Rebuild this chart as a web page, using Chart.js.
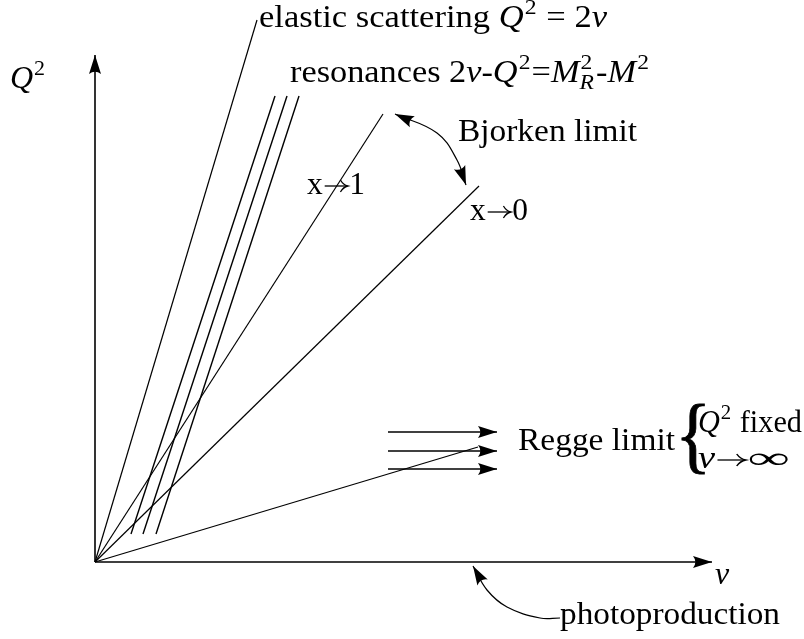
<!DOCTYPE html>
<html>
<head>
<meta charset="utf-8">
<script src="https://cdn.jsdelivr.net/npm/chart.js@4.4.1/dist/chart.umd.min.js"></script>
<style>
  html, body { margin: 0; padding: 0; background: #fff; }
  #wrap { width: 804px; height: 639px; }
</style>
</head>
<body>
<div id="wrap"><canvas id="kin"></canvas></div>
<script>
// kinematic plane, nu along x and Q^2 along y (arbitrary units, origin = threshold)
const axisEnd = [6.17, 5.07];               // nu axis end, Q2 axis end

const rayNames = ['elastic', 'x->1', 'x->0', 'Regge'];
const rayNu = [1.62, 2.88, 3.84, 3.83];
const rayQ2 = [5.42, 4.48, 3.76, 1.15];

const resNuLow = [0.36, 0.48, 0.61];
const resQ2Low = [0.28, 0.28, 0.28];
const resNuHigh = [1.80, 1.92, 2.04];
const resQ2High = [4.66, 4.66, 4.66];

const reggeArrowNu = [2.93, 4.02];
const reggeArrowQ2 = [1.30, 1.11, 0.93];

const bjorkenNu = [3.00, 3.42, 3.62, 3.71];
const bjorkenQ2 = [4.48, 4.29, 4.02, 3.77];

const photoNu = [4.65, 4.45, 4.12, 3.92, 3.78];
const photoQ2 = [-0.56, -0.56, -0.45, -0.28, -0.04];

const FONT = "'Liberation Serif', 'DejaVu Serif', serif";
const BIG = 32, SMALL = 22;

// text runs: '' roman, 'i' italic, 'sup', 'arr' (drawn arrow), 'inf', 'supsub' (sup|sub stacked)
// w = width the label takes in the original figure (Computer Modern is wider than Times)
const labels = [
  { nu: -0.85, q2: 4.74, runs: [['Q', 'i'], ['2', 'sup']] },
  { nu: 6.20, q2: -0.22, runs: [['ν', 'i']] },
  { nu: 1.64, q2: 5.35, w: 348, runs: [['elastic scattering ', ''], ['Q', 'i'], ['2', 'sup'], [' = 2', ''], ['ν', 'i']] },
  { nu: 1.95, q2: 4.80, w: 360, runs: [['resonances 2', ''], ['ν', 'i'], ['-', ''], ['Q', 'i'], ['2', 'sup'], ['=', ''], ['M', 'i'], ['2|R', 'supsub'], ['-', ''], ['M', 'i'], ['2', 'sup']] },
  { nu: 3.63, q2: 4.21, w: 179, runs: [['Bjorken limit', '']] },
  { nu: 2.12, q2: 3.68, w: 58, runs: [['x', ''], ['→', 'arr'], ['1', '']] },
  { nu: 3.75, q2: 3.42, w: 58, runs: [['x', ''], ['→', 'arr'], ['0', '']] },
  { nu: 4.23, q2: 1.12, w: 157, runs: [['Regge limit', '']] },
  { nu: 6.03, q2: 1.30, w: 104, runs: [['Q', 'i'], ['2', 'sup'], [' fixed', '']] },
  { nu: 6.03, q2: 0.94, w: 92, runs: [['ν', 'i'], ['→', 'arr'], ['∞', 'inf']] },
  { nu: 4.65, q2: -0.62, w: 220, runs: [['photoproduction', '']] }
];

function seg(nu, q2) {
  return nu.map((v, i) => ({ x: v, y: q2[i] }));
}

const datasets = [];
function addLine(points, opts) {
  datasets.push(Object.assign({
    data: points,
    borderColor: '#000',
    borderWidth: 1.2,
    pointRadius: 0,
    fill: false,
    tension: 0,
    clip: false
  }, opts || {}));
}

// axes
addLine([{ x: 0, y: 0 }, { x: axisEnd[0], y: 0 }], { borderWidth: 1.6, arrow: 'end' });
addLine([{ x: 0, y: 0 }, { x: 0, y: axisEnd[1] }], { borderWidth: 1.6, arrow: 'end' });
// rays from the origin
rayNames.forEach((n, i) => addLine([{ x: 0, y: 0 }, { x: rayNu[i], y: rayQ2[i] }], { label: n }));
// resonance lines
resNuLow.forEach((v, i) => addLine(seg([v, resNuHigh[i]], [resQ2Low[i], resQ2High[i]]), { borderWidth: 1.4 }));
// regge arrows
reggeArrowQ2.forEach(q => addLine(seg(reggeArrowNu, [q, q]), { borderWidth: 1.5, arrow: 'end' }));
// curved arrows
addLine(seg(bjorkenNu, bjorkenQ2), { tension: 0.4, arrow: 'both' });
addLine(seg(photoNu, photoQ2), { tension: 0.4, arrow: 'end' });

function arrowHead(ctx, x, y, ang) {
  const len = 19, half = 6;
  ctx.save();
  ctx.translate(x, y);
  ctx.rotate(ang);
  ctx.beginPath();
  ctx.moveTo(0, 0);
  ctx.lineTo(-len, -half);
  ctx.quadraticCurveTo(-len * 0.75, 0, -len, half);
  ctx.closePath();
  ctx.fillStyle = '#000';
  ctx.fill();
  ctx.restore();
}

const arrowPlugin = {
  id: 'arrows',
  afterDatasetsDraw(chart) {
    const ctx = chart.ctx;
    chart.data.datasets.forEach((ds, i) => {
      if (!ds.arrow) return;
      const pts = chart.getDatasetMeta(i).data;
      const last = pts[pts.length - 1], prev = pts[pts.length - 2];
      let fx = prev.x, fy = prev.y;
      if (ds.tension && last.cp1x !== undefined) { fx = last.cp1x; fy = last.cp1y; }
      arrowHead(ctx, last.x, last.y, Math.atan2(last.y - fy, last.x - fx));
      if (ds.arrow === 'both') {
        const first = pts[0], nxt = pts[1];
        let bx = nxt.x, by = nxt.y;
        if (ds.tension && first.cp2x !== undefined) { bx = first.cp2x; by = first.cp2y; }
        arrowHead(ctx, first.x, first.y, Math.atan2(first.y - by, first.x - bx));
      }
    });
  }
};

// draws (or just measures) a label made of runs, returns its width
function runs(ctx, list, draw) {
  let cx = 0;
  const put = (t, x, y) => { if (draw) ctx.fillText(t, x, y); };
  list.forEach(([t, st]) => {
    if (st === 'supsub') {
      const [a, b] = t.split('|');
      ctx.font = SMALL + 'px ' + FONT;
      put(a, cx + 1, -BIG * 0.42);
      const wa = ctx.measureText(a).width;
      ctx.font = 'italic ' + SMALL + 'px ' + FONT;
      put(b, cx, BIG * 0.22);
      cx += Math.max(wa, ctx.measureText(b).width) + 2;
    } else if (st === 'sup') {
      ctx.font = SMALL + 'px ' + FONT;
      put(t, cx + 1, -BIG * 0.42);
      cx += ctx.measureText(t).width + 2;
    } else if (st === 'arr') {
      const aw = 27, ay = -BIG * 0.25;
      if (draw) {
        ctx.save();
        ctx.lineWidth = 1.3;
        ctx.strokeStyle = '#000';
        ctx.beginPath();
        ctx.moveTo(cx + 2, ay);
        ctx.lineTo(cx + aw - 2, ay);
        ctx.stroke();
        ctx.beginPath();
        ctx.moveTo(cx + aw - 9, ay - 6);
        ctx.quadraticCurveTo(cx + aw - 6, ay - 1, cx + aw - 1.5, ay);
        ctx.quadraticCurveTo(cx + aw - 6, ay + 1, cx + aw - 9, ay + 6);
        ctx.stroke();
        ctx.restore();
      }
      cx += aw;
    } else if (st === 'inf') {
      ctx.font = '30px ' + FONT;
      const iw = ctx.measureText(t).width;
      if (draw) {
        ctx.save();
        ctx.translate(cx, 0);
        ctx.scale(1.65, 1);
        ctx.fillText(t, 0, 0);
        ctx.restore();
      }
      cx += iw * 1.65;
    } else {
      ctx.font = (st === 'i' ? 'italic ' : '') + BIG + 'px ' + FONT;
      put(t, cx, 0);
      cx += ctx.measureText(t).width;
    }
  });
  return cx;
}

const textPlugin = {
  id: 'texts',
  afterDraw(chart) {
    const ctx = chart.ctx;
    const xs = chart.scales.x, ys = chart.scales.y;
    ctx.save();
    ctx.fillStyle = '#000';
    ctx.textBaseline = 'alphabetic';
    labels.forEach(l => {
      const nat = runs(ctx, l.runs, false);
      ctx.save();
      ctx.translate(xs.getPixelForValue(l.nu), ys.getPixelForValue(l.q2));
      if (l.w) ctx.scale(l.w / nat, 1);
      runs(ctx, l.runs, true);
      ctx.restore();
    });
    // brace of the Regge limit
    ctx.font = '84px ' + FONT;
    ctx.textBaseline = 'middle';
    ctx.save();
    ctx.translate(xs.getPixelForValue(5.80), ys.getPixelForValue(1.21));
    ctx.scale(0.9, 1);
    ctx.lineWidth = 0.8;
    ctx.strokeStyle = '#000';
    ctx.fillText('{', 0, 0);
    ctx.strokeText('{', 0, 0);
    ctx.restore();
    ctx.restore();
  }
};

new Chart(document.getElementById('kin'), {
  type: 'line',
  data: { datasets: datasets },
  options: {
    responsive: true,
    maintainAspectRatio: false,
    animation: false,
    layout: { padding: 0 },
    plugins: { legend: { display: false }, tooltip: { enabled: false } },
    scales: {
      x: { type: 'linear', min: -0.95, max: 7.09, display: false },
      y: { type: 'linear', min: -0.77, max: 5.62, display: false }
    }
  },
  plugins: [arrowPlugin, textPlugin]
});
</script>
</body>
</html>
